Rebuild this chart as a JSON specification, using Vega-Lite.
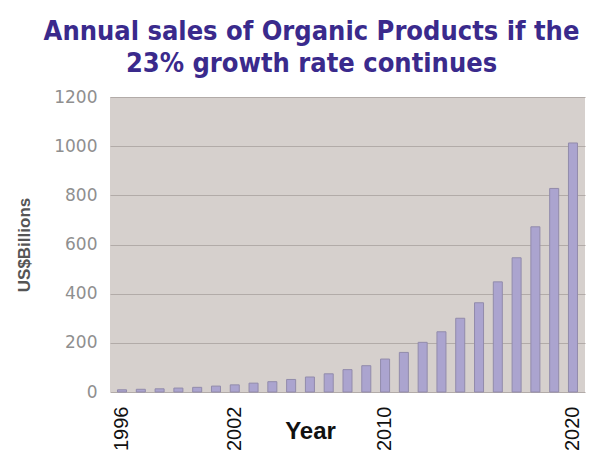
{
  "$schema": "https://vega.github.io/schema/vega-lite/v6.json",
  "autosize": {"type": "none"},
  "width": 475,
  "height": 295,
  "padding": {"left": 110, "top": 97, "right": 10, "bottom": 74},
  "background": "white",
  "title": {
    "text": ["Annual sales of Organic Products if the", "23% growth rate continues"],
    "font": "DejaVu Sans Condensed, Roboto",
    "fontSize": 27,
    "fontWeight": "bold",
    "color": "#3a2a8c",
    "lineHeight": 32,
    "anchor": "middle",
    "dx": -36,
    "offset": 10
  },
  "data": {
    "values": [
      {"year": 1996, "sales": 9},
      {"year": 1997, "sales": 11},
      {"year": 1998, "sales": 13},
      {"year": 1999, "sales": 16},
      {"year": 2000, "sales": 19},
      {"year": 2001, "sales": 24},
      {"year": 2002, "sales": 29},
      {"year": 2003, "sales": 36},
      {"year": 2004, "sales": 42},
      {"year": 2005, "sales": 51},
      {"year": 2006, "sales": 61},
      {"year": 2007, "sales": 74},
      {"year": 2008, "sales": 91},
      {"year": 2009, "sales": 107},
      {"year": 2010, "sales": 134},
      {"year": 2011, "sales": 161},
      {"year": 2012, "sales": 202},
      {"year": 2013, "sales": 245},
      {"year": 2014, "sales": 300},
      {"year": 2015, "sales": 363},
      {"year": 2016, "sales": 448},
      {"year": 2017, "sales": 546},
      {"year": 2018, "sales": 672},
      {"year": 2019, "sales": 828},
      {"year": 2020, "sales": 1013}
    ]
  },
  "mark": {"type": "bar", "fill": "#aba4cf", "stroke": "#928bab", "strokeWidth": 1},
  "encoding": {
    "x": {
      "field": "year",
      "type": "ordinal",
      "scale": {"paddingInner": 0.52, "paddingOuter": 0.4},
      "axis": {
        "values": [1996, 2002, 2010, 2020],
        "title": "Year",
        "titleFont": "Liberation Sans",
        "titleFontSize": 24,
        "titleFontWeight": "bold",
        "titleColor": "#111111",
        "titleX": 200,
        "titleY": 46,
        "titleBaseline": "alphabetic",
        "titleAlign": "center",
        "labelAngle": -90,
        "labelFont": "Liberation Sans",
        "labelFontSize": 20,
        "labelColor": "#111111",
        "labelPadding": 14,
        "ticks": false,
        "domain": false,
        "grid": false
      }
    },
    "y": {
      "field": "sales",
      "type": "quantitative",
      "scale": {"domain": [0, 1200]},
      "axis": {
        "values": [0, 200, 400, 600, 800, 1000, 1200],
        "format": "d",
        "title": "US$Billions",
        "titleFont": "Liberation Sans",
        "titleFontSize": 17,
        "titleFontWeight": "bold",
        "titleColor": "#555555",
        "titlePadding": 20,
        "labelFont": "DejaVu Sans",
        "labelFontSize": 17,
        "labelColor": "#8f8f8f",
        "labelPadding": 13,
        "ticks": false,
        "domain": false,
        "grid": true,
        "gridColor": "#b2aba8",
        "gridWidth": 1
      }
    }
  },
  "config": {
    "view": {"fill": "#d6d0cd", "stroke": null}
  }
}
